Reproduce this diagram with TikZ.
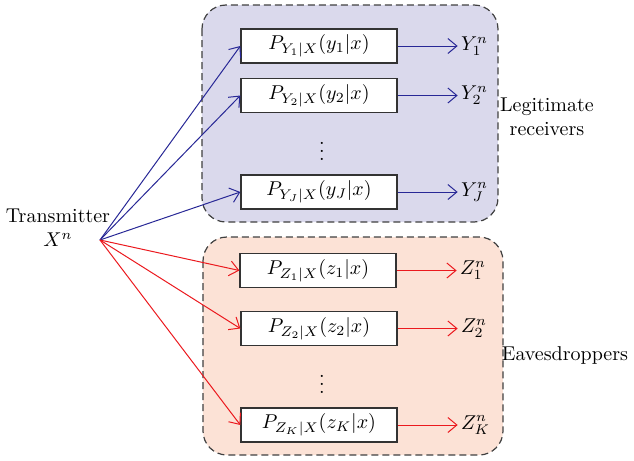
\documentclass[tikz,border=0pt]{standalone}
\usepackage{amsmath}
\usepackage{tikz}
\usetikzlibrary{positioning, arrows.meta}
\definecolor{legitfill}{RGB}{218,217,236}
\definecolor{legitline}{RGB}{40,40,150}
\definecolor{evefill}{RGB}{252,226,214}
\definecolor{eveline}{RGB}{235,25,30}
\tikzset{
x=0.5pt, y=-0.5pt, % one unit is one pixel of the layout
>={Straight Barb[length=4.5pt, width=7.5pt]}, % open arrow heads
region/.style={draw=black!75, dash pattern=on 3.5pt off 2pt, line width=0.6pt, rounded corners=12pt}, % the two dashed groups
chan/.style={draw=black!80, line width=0.65pt, fill=white, minimum width=78pt, minimum height=17pt, inner sep=0pt}, % channel boxes
outlbl/.style={inner sep=1.5pt}, % channel outputs
legit/.style={->, draw=legitline, line width=0.5pt}, % blue links
eve/.style={->, draw=eveline, line width=0.5pt}, % red links
}
\begin{document}
\begin{tikzpicture}
    \useasboundingbox (0,0) rectangle (634,461);

    % groups
    \draw[region, fill=legitfill] (202,5) rectangle (498,222);
    \draw[region, fill=evefill] (203,237) rectangle (503,455);

    % transmitter
    \node[align=center] (tx) at (58,228) {Transmitter\\$X^n$};
    \coordinate (src) at (100,240);

    % legitimate receivers
    \node[chan] (y1) at (319,46) {$P_{Y_1|X}(y_1|x)$};
    \node[chan] (y2) at (319,95.5) {$P_{Y_2|X}(y_2|x)$};
    \node (ydots) at (322,145) {$\vdots$};
    \node[chan] (yJ) at (319,192) {$P_{Y_J|X}(y_J|x)$};
    \node[outlbl, right=30pt of y1] (y1o) {$Y_1^n$};
    \node[outlbl, right=30pt of y2] (y2o) {$Y_2^n$};
    \node[outlbl, right=30pt of yJ] (yJo) {$Y_J^n$};
    \node[align=center] (legitlbl) at (547,117) {Legitimate\\receivers};

    % eavesdroppers
    \node[chan] (z1) at (318,270.5) {$P_{Z_1|X}(z_1|x)$};
    \node[chan] (z2) at (319,328.5) {$P_{Z_2|X}(z_2|x)$};
    \node (zdots) at (322,378) {$\vdots$};
    \node[chan] (zK) at (319,425) {$P_{Z_K|X}(z_K|x)$};
    \node[outlbl, right=30pt of z1] (z1o) {$Z_1^n$};
    \node[outlbl, right=30pt of z2] (z2o) {$Z_2^n$};
    \node[outlbl, right=30pt of zK] (zKo) {$Z_K^n$};
    \node (evelbl) at (565,355) {Eavesdroppers};

    \draw[legit] (src) -- (y1.west);
    \draw[legit] (src) -- (y2.west);
    \draw[legit] (src) -- (yJ.west);
    \draw[legit] (y1) -- (y1o);
    \draw[legit] (y2) -- (y2o);
    \draw[legit] (yJ) -- (yJo);

    \draw[eve] (src) -- (z1.west);
    \draw[eve] (src) -- (z2.west);
    \draw[eve] (src) -- (zK.west);
    \draw[eve] (z1) -- (z1o);
    \draw[eve] (z2) -- (z2o);
    \draw[eve] (zK) -- (zKo);
\end{tikzpicture}
\end{document}
